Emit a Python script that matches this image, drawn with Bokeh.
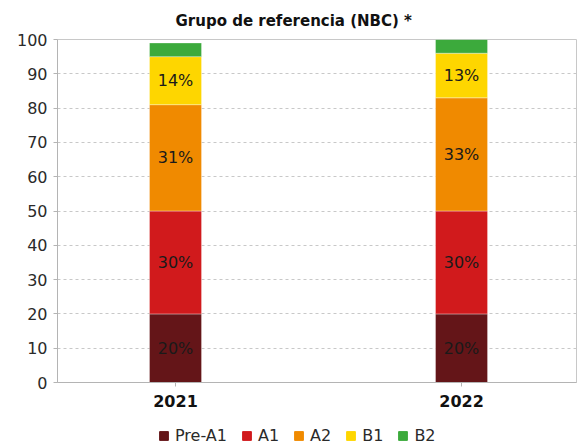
from bokeh.plotting import figure
from bokeh.layouts import column
from bokeh.models import ColumnDataSource, Legend, LegendItem, FixedTicker, Range1d
from bokeh.core.properties import value
from bokeh.embed import file_html
from bokeh.resources import INLINE

years = ["2021", "2022"]
levels = ["Pre-A1", "A1", "A2", "B1", "B2"]
pre_a1 = [20, 20]
a1 = [30, 30]
a2 = [31, 33]
b1 = [14, 13]
b2 = [4, 4]
colors = ["#641518", "#d11a1c", "#f08a00", "#fed600", "#3caa3c"]
y_ticks = [0, 10, 20, 30, 40, 50, 60, 70, 80, 90, 100]
title_text = "Grupo de referencia (NBC) *"

FONT = "DejaVu Sans"
xs = list(range(len(years)))
series = [pre_a1, a1, a2, b1, b2]
data = {"x": xs}
for name, vals in zip(levels, series):
    data[name] = vals
src = ColumnDataSource(data)

p = figure(width=579, height=425, output_backend="svg", toolbar_location=None,
           x_range=Range1d(-0.4126, 1.402), y_range=Range1d(0, 100),
           min_border_left=57, min_border_right=3, min_border_top=39, min_border_bottom=43)

renderers = p.vbar_stack(levels, x="x", width=0.182, source=src, color=colors,
                         line_color="white", line_alpha=0.35, line_width=1)

# segment labels
lx, ly, lt = [], [], []
for i in xs:
    base = 0
    for vals in series:
        v = vals[i]
        if v >= 10:
            lx.append(i)
            ly.append(base + v / 2)
            lt.append(f"{v}%")
        base += v
p.text(x=lx, y=ly, text=lt, text_align="center", text_baseline="middle",
       text_font=value(FONT), text_font_size="16px", text_color="#1a1a1a")

# title
p.title.text = title_text
p.title.align = "left"
p.title.text_font = FONT
p.title.text_font_size = "15px"
p.title.text_font_style = "bold"
p.title.text_color = "#111111"
p.title.offset = 118
p.title.standoff = 19

# axes
p.yaxis.ticker = FixedTicker(ticks=y_ticks)
p.yaxis.axis_line_color = "#b4b4b4"
p.yaxis.major_tick_line_color = "#b4b4b4"
p.yaxis.major_tick_out = 4
p.yaxis.major_tick_in = 0
p.yaxis.minor_tick_line_color = None
p.yaxis.major_label_standoff = 6
p.yaxis.major_label_text_font = FONT
p.yaxis.major_label_text_font_size = "16px"
p.yaxis.major_label_text_color = "#2a2a2a"

p.xaxis.ticker = FixedTicker(ticks=xs)
p.xaxis.major_label_overrides = {i: y for i, y in zip(xs, years)}
p.xaxis.axis_line_color = "#b4b4b4"
p.xaxis.major_tick_line_color = "#b4b4b4"
p.xaxis.major_tick_out = 4
p.xaxis.major_tick_in = 0
p.xaxis.minor_tick_line_color = None
p.xaxis.major_label_standoff = 8
p.xaxis.major_label_text_font = FONT
p.xaxis.major_label_text_font_size = "16px"
p.xaxis.major_label_text_font_style = "bold"
p.xaxis.major_label_text_color = "#111111"

p.xgrid.grid_line_color = None
p.ygrid.grid_line_color = "#c8c8c8"
p.ygrid.grid_line_dash = "3 3"
p.outline_line_color = "#c8c8c8"

# legend strip below the chart (same stacked series, hidden; only the legend shows)
p2 = figure(width=579, height=22, output_backend="svg", toolbar_location=None,
            x_range=Range1d(10, 11), y_range=Range1d(200, 201),
            x_axis_type=None, y_axis_type=None,
            min_border_left=0, min_border_right=0, min_border_top=0, min_border_bottom=0)
p2.grid.grid_line_color = None
p2.outline_line_color = None
swatches = p2.vbar_stack(levels, x="x", width=0.182, source=src, color=colors)
for r in swatches:
    r.visible = False
items = [LegendItem(label=l, renderers=[r]) for l, r in zip(levels, swatches)]
legend = Legend(items=items, orientation="horizontal", location=(101, 2),
                glyph_width=11, glyph_height=11, label_text_font=FONT,
                label_text_font_size="16px", label_text_color="#2a2a2a",
                label_standoff=6, spacing=14, padding=0, margin=0,
                label_height=16, border_line_color=None, background_fill_alpha=0)
p2.add_layout(legend, "center")

open("out.html", "w").write(file_html(column(p, p2, spacing=0), INLINE))
